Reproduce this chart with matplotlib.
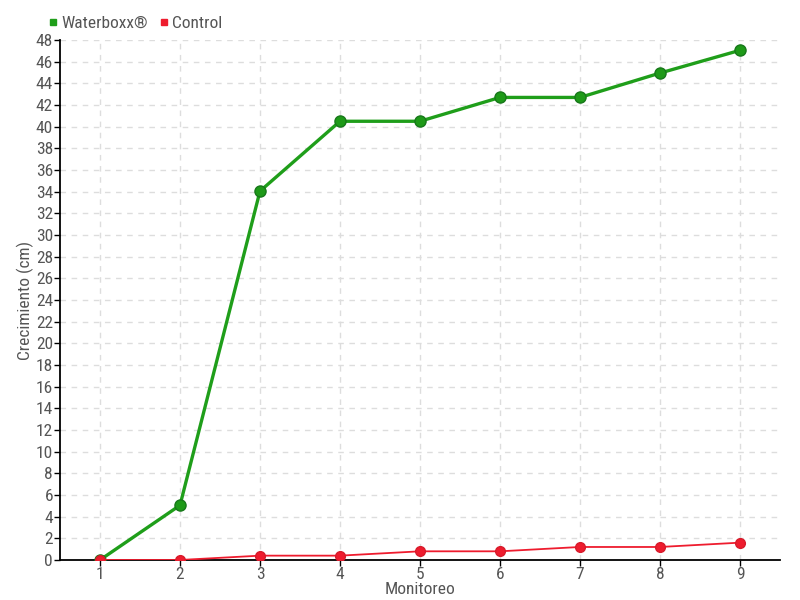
import numpy as np
from matplotlib import pyplot as plt
from matplotlib import font_manager
from matplotlib.lines import Line2D

monitoreo = [1, 2, 3, 4, 5, 6, 7, 8, 9]
waterboxx = [0, 5.05, 34.05, 40.5, 40.5, 42.7, 42.7, 44.95, 47.05]
control = [0, 0, 0.4, 0.4, 0.8, 0.8, 1.2, 1.2, 1.6]

# fuente estrecha si existe
instaladas = {f.name for f in font_manager.fontManager.ttflist}
fuente = 'DejaVu Sans'
for nombre in ['Liberation Sans Narrow', 'DejaVu Sans Condensed', 'Roboto Condensed',
               'Open Sans Condensed', 'Roboto']:
    if nombre in instaladas:
        fuente = nombre
        break
plt.rcParams['font.family'] = [fuente, 'DejaVu Sans']

gris = '#555555'
verde = '#1f9e1a'
rojo = '#ee1c2e'

fig = plt.figure(figsize=(8, 6), dpi=100)
ax = fig.add_axes([0.075, 0.0667, 0.9, 0.8666])

ax.plot(monitoreo, waterboxx, color=verde, lw=2.4, marker='o', ms=8,
        markerfacecolor='#1e9a18', markeredgecolor='#17781a', zorder=3)
ax.plot(monitoreo, control, color=rojo, lw=1.3, marker='o', ms=7,
        markerfacecolor=rojo, markeredgecolor='#d81a2a', zorder=4)

ax.set_xlim(0.5, 9.5)
ax.set_ylim(0, 48)
ax.set_xticks(monitoreo)
ax.set_yticks(np.arange(0, 49, 2))
ax.grid(True, color='#dddddd', ls=(0, (4, 4)), lw=1)
ax.set_axisbelow(True)

for s in ['top', 'right']:
    ax.spines[s].set_visible(False)
ax.spines['left'].set_linewidth(1.3)
ax.spines['bottom'].set_linewidth(1.3)
ax.tick_params(direction='out', length=4, width=1, labelsize=12.5, colors='black',
               labelcolor=gris, pad=1)

ax.set_xlabel('Monitoreo', fontsize=12.5, color=gris, labelpad=0)
ax.set_ylabel('Crecimiento (cm)', fontsize=12.5, color=gris, labelpad=1)

handles = [Line2D([], [], ls='none', marker='s', ms=5, color=verde),
           Line2D([], [], ls='none', marker='s', ms=5, color=rojo)]
leg = fig.legend(handles, ['Waterboxx®', 'Control'], loc='upper left',
                 bbox_to_anchor=(0.04, 1.0), ncol=2, frameon=False,
                 fontsize=12.5, handlelength=0.6, handletextpad=0.2,
                 columnspacing=0.6, labelcolor=gris)

fig.savefig('out.png', dpi=100)
